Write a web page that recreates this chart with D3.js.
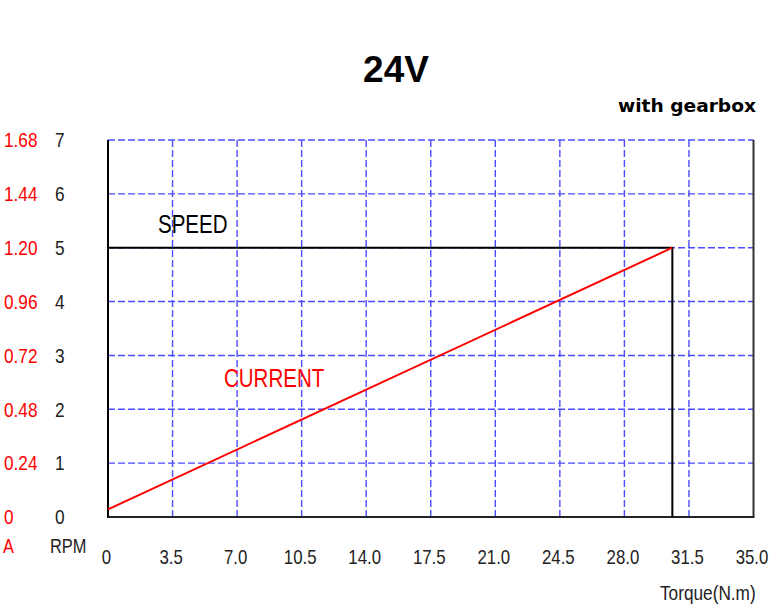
<!DOCTYPE html>
<html>
<head>
<meta charset="utf-8">
<script src="https://cdn.jsdelivr.net/npm/d3@7"></script>
<style>
  html, body { margin: 0; padding: 0; background: #fff; }
  svg { display: block; }
  .nar { font-family: "Liberation Sans", Arial, sans-serif; }
</style>
</head>
<body>
<svg id="chart" width="776" height="611"></svg>
<script>
// ---- data ----
const torqueTicks = [0, 3.5, 7.0, 10.5, 14.0, 17.5, 21.0, 24.5, 28.0, 31.5, 35.0];
const torqueTickLabels = ["0", "3.5", "7.0", "10.5", "14.0", "17.5", "21.0", "24.5", "28.0", "31.5", "35.0"];
const rpmTicks = [0, 1, 2, 3, 4, 5, 6, 7];
const ampTickLabels = ["0", "0.24", "0.48", "0.72", "0.96", "1.20", "1.44", "1.68"];
const ampPerRpmUnit = 0.24;
const speedTorque = [0, 30.6, 30.6];
const speedRpm = [5, 5, 0];
const currentTorque = [0, 30.6];
const currentAmp = [0.034, 1.20];

// ---- layout ----
const svg = d3.select("#chart");
const x = d3.scaleLinear().domain([0, 35]).range([108, 753.5]);
const y = d3.scaleLinear().domain([0, 7]).range([517, 140]);
const yA = d3.scaleLinear().domain([0, 7 * ampPerRpmUnit]).range([517, 140]);

const blue = "#4b4bff";
const red = "#ff0000";

// condense text to mimic a narrow face
function narrow(sel, f = 0.82) {
  sel.each(function () {
    const w = this.getComputedTextLength();
    d3.select(this).attr("textLength", w * f).attr("lengthAdjust", "spacingAndGlyphs");
  });
}

// grid
const grid = svg.append("g");
grid.selectAll("line.v").data(torqueTicks.filter(t => t > 0 && t < 35)).join("line")
  .attr("x1", d => x(d)).attr("x2", d => x(d)).attr("y1", y(7)).attr("y2", y(0))
  .attr("stroke", blue).attr("stroke-width", 1.4).attr("stroke-dasharray", "7,3");
grid.selectAll("line.h").data(rpmTicks.filter(t => t > 0)).join("line")
  .attr("x1", x(0)).attr("x2", x(35)).attr("y1", d => y(d)).attr("y2", d => y(d))
  .attr("stroke", blue).attr("stroke-width", 1.4).attr("stroke-dasharray", "7,3");

// frame
svg.append("line").attr("x1", x(35)).attr("x2", x(35)).attr("y1", y(7)).attr("y2", y(0))
  .attr("stroke", "#333").attr("stroke-width", 2);
svg.append("line").attr("x1", x(0)).attr("x2", x(0)).attr("y1", y(7)).attr("y2", y(0) + 1)
  .attr("stroke", "#000").attr("stroke-width", 2);
svg.append("line").attr("x1", x(0)).attr("x2", x(35) + 1).attr("y1", y(0)).attr("y2", y(0))
  .attr("stroke", "#222").attr("stroke-width", 2);

// x axis labels
const xAxis = d3.axisBottom(x).tickValues(torqueTicks)
  .tickFormat((d, i) => torqueTickLabels[i]).tickSize(0).tickPadding(32);
const gx = svg.append("g").attr("transform", `translate(0,${y(0)})`).call(xAxis);
gx.select(".domain").remove();
gx.selectAll("text").attr("class", "nar").attr("font-size", 21).attr("fill", "#222")
  .attr("dx", -2).call(narrow, 0.8);

// left axes
const rpmAxis = d3.axisLeft(y).tickValues(rpmTicks).tickFormat(d3.format("d")).tickSize(0);
const gr = svg.append("g").call(rpmAxis);
gr.select(".domain").remove();
gr.selectAll("text").attr("class", "nar").attr("x", 55).attr("text-anchor", "start")
  .attr("font-size", 21).attr("fill", "#222").call(narrow);

const ampAxis = d3.axisLeft(yA).tickValues(rpmTicks.map(r => r * ampPerRpmUnit))
  .tickFormat((d, i) => ampTickLabels[i]).tickSize(0);
const ga = svg.append("g").call(ampAxis);
ga.select(".domain").remove();
ga.selectAll("text").attr("class", "nar").attr("x", 4).attr("text-anchor", "start")
  .attr("font-size", 21).attr("fill", red).call(narrow);

// unit labels
svg.append("text").attr("class", "nar").attr("x", 3).attr("y", 553).attr("font-size", 20)
  .attr("fill", red).text("A").call(narrow);
svg.append("text").attr("class", "nar").attr("x", 50).attr("y", 553).attr("font-size", 20)
  .attr("fill", "#222").text("RPM").call(narrow);
svg.append("text").attr("class", "nar").attr("x", 660).attr("y", 600).attr("font-size", 21)
  .attr("fill", "#222").text("Torque(N.m)").call(narrow);

// series
const line = d3.line();
svg.append("path")
  .attr("d", line(speedTorque.map((t, i) => [x(t), y(speedRpm[i])])))
  .attr("fill", "none").attr("stroke", "#000").attr("stroke-width", 2);
svg.append("path")
  .attr("d", line(currentTorque.map((t, i) => [x(t), yA(currentAmp[i])])))
  .attr("fill", "none").attr("stroke", red).attr("stroke-width", 2);

// series labels
svg.append("text").attr("class", "nar").attr("x", 158).attr("y", 233).attr("font-size", 25)
  .attr("fill", "#000").text("SPEED").call(narrow);
svg.append("text").attr("class", "nar").attr("x", 224).attr("y", 387).attr("font-size", 25)
  .attr("fill", red).text("CURRENT").call(narrow);

// titles
svg.append("text").attr("x", 396).attr("y", 82).attr("text-anchor", "middle")
  .attr("font-family", "Liberation Sans, Arial, sans-serif").attr("font-weight", "bold")
  .attr("font-size", 37).attr("fill", "#000").text("24V");
svg.append("text").attr("x", 618).attr("y", 112)
  .attr("font-family", "DejaVu Sans, sans-serif").attr("font-weight", "bold")
  .attr("font-size", 17).attr("fill", "#000")
  .attr("textLength", 138).attr("lengthAdjust", "spacingAndGlyphs").text("with gearbox");
</script>
</body>
</html>
